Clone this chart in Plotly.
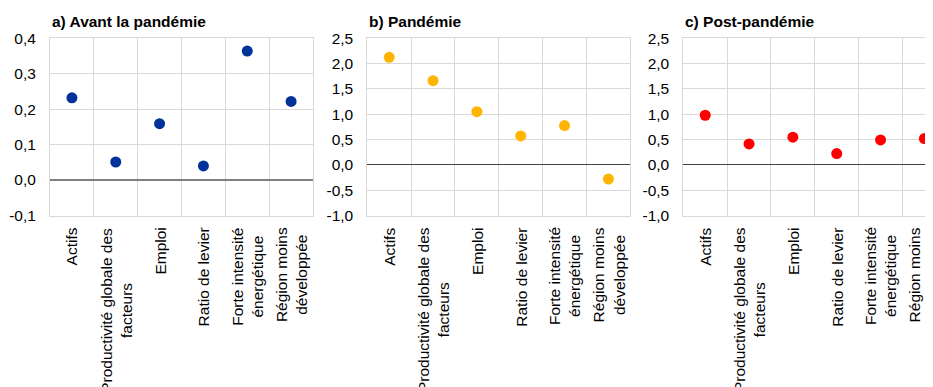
import plotly.graph_objects as go

categories = [
    "Actifs",
    "Productivité globale des<br>facteurs",
    "Emploi",
    "Ratio de levier",
    "Forte intensité<br>énergétique",
    "Région moins<br>développée",
]
titles = ["a) Avant la pandémie", "b) Pandémie", "c) Post-pandémie"]
avant = [0.232, 0.051, 0.159, 0.040, 0.364, 0.222]
pandemie = [2.125, 1.663, 1.05, 0.572, 0.776, -0.28]
post = [0.98, 0.414, 0.546, 0.223, 0.493, 0.519]
colors = ["#003299", "#FFB400", "#FF0000"]
y_ranges = [[-0.1, 0.4], [-1.0, 2.5]]
ytick_vals_a = [-0.1, 0.0, 0.1, 0.2, 0.3, 0.4]
ytick_text_a = ["-0,1", "0,0", "0,1", "0,2", "0,3", "0,4"]
ytick_vals_bc = [-1.0, -0.5, 0.0, 0.5, 1.0, 1.5, 2.0, 2.5]
ytick_text_bc = ["-1,0", "-0,5", "0,0", "0,5", "1,0", "1,5", "2,0", "2,5"]

# page is 933x387; the html body adds an 8px offset
OFF = 8
W, H = 933 - OFF, 387 - OFF
series = [avant, pandemie, post]
# pixel layout of plot areas (page coordinates)
x_left = [50, 367.3, 683.3]
plot_w = 263.0
y_top, y_bot = 38.3, 215.5
label_top = 226.5

fig = go.Figure()
font = "Liberation Sans, Arial, sans-serif"
GRID = "#d9d9d9"
FS = 15.5


def px(x):
    return (x - OFF) / W


def py(y):
    return 1 - (y - OFF) / H


for i in range(3):
    ax = "" if i == 0 else str(i + 1)
    xr = x_left[i] + plot_w
    xmax = 5.5
    if xr > OFF + W:
        xmax = 5.5 - (xr - (OFF + W)) / (plot_w / 6)
        xr = OFF + W
    fig.add_trace(go.Scatter(
        x=categories, y=series[i], mode="markers",
        marker=dict(color=colors[i], size=11),
        xaxis="x" + ax, yaxis="y" + ax, showlegend=False,
        cliponaxis=False,
    ))
    yr = y_ranges[0] if i == 0 else y_ranges[1]
    tv = ytick_vals_a if i == 0 else ytick_vals_bc
    tt = ytick_text_a if i == 0 else ytick_text_bc
    fig.layout["xaxis" + ax] = dict(
        domain=[px(x_left[i]), px(xr)],
        anchor="y" + ax,
        type="category",
        categoryarray=categories,
        range=[-0.5, xmax],
        tickson="boundaries",
        showgrid=True, gridcolor=GRID, gridwidth=1,
        showline=True, linecolor=GRID, mirror=True,
        ticks="", showticklabels=False,
        zeroline=False,
        automargin=False,
        fixedrange=True,
    )
    fig.layout["yaxis" + ax] = dict(
        domain=[py(y_bot), py(y_top)],
        anchor="x" + ax,
        range=yr, tickmode="array", tickvals=tv, ticktext=tt,
        showgrid=True, gridcolor=GRID, gridwidth=1,
        showline=True, linecolor=GRID, mirror=(i < 2),
        zeroline=True,
        zerolinecolor="#808080" if i == 0 else "#404040",
        zerolinewidth=2 if i == 0 else 1,
        ticks="",
        ticklabelstandoff=10,
        tickfont=dict(family=font, size=FS, color="#000000"),
        automargin=False,
        fixedrange=True,
    )
    fig.add_annotation(
        text="<b>" + titles[i] + "</b>",
        xref="paper", yref="paper",
        x=px(x_left[i]), y=py(21),
        xanchor="left", yanchor="middle",
        showarrow=False,
        font=dict(family=font, size=FS, color="#000000"),
    )
    # category labels, rotated, lines centred
    for c in categories:
        fig.add_annotation(
            text=c, xref="x" + ax, yref="paper",
            x=c, y=py(label_top),
            xanchor="center", yanchor="top",
            textangle=-90, align="center",
            showarrow=False, borderpad=0,
            font=dict(family=font, size=FS, color="#000000"),
        )

fig.update_layout(
    width=W, height=H,
    margin=dict(l=0, r=0, t=0, b=0),
    paper_bgcolor="white", plot_bgcolor="white",
)
fig.write_html("out.html")
